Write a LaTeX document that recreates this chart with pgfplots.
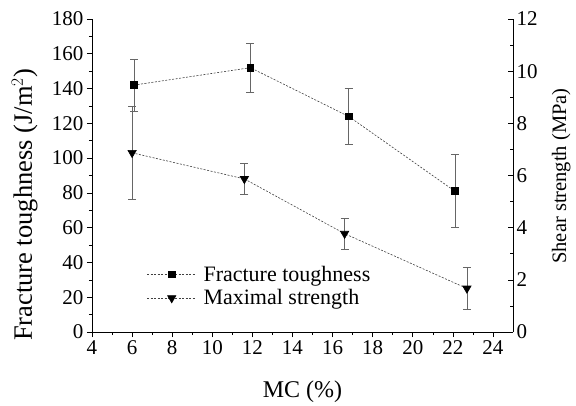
\documentclass[border=0pt]{standalone}
\usepackage{fontspec}
\setmainfont{Liberation Serif}
\usepackage{pgfplots}
\pgfplotsset{compat=1.18}
\usepackage{pgfplotstable}

\pgfplotstableread{
x     y    e
6.1   142  15
11.9  152  14
16.8  124  16
22.1  81   21
}\toughness

\pgfplotstableread{
x     y     e
6.0   6.87  1.80
11.6  5.87  0.60
16.6  3.77  0.60
22.7  1.67  0.80
}\strength

\pgfplotsset{
  common/.style={
    scale only axis, width=421pt, height=313pt,
    xmin=4, xmax=25,
    /pgf/number format/assume math mode=true,
    tick label style={font=\fontsize{21}{25}\selectfont},
    major tick length=5pt, minor tick length=3pt,
    tick style={black, line width=0.6pt},
    axis line style={line width=0.7pt},
  },
  ser/.style={black!75, line width=0.6pt, dash pattern=on 2pt off 1.5pt},
  ebar/.style={error bars/.cd, y dir=both, y explicit,
    error bar style={gray!80!black, line width=0.6pt, solid},
    error mark options={rotate=90, mark size=4pt, gray!80!black, line width=0.6pt, solid}},
}

\begin{document}
\begin{tikzpicture}
  \begin{axis}[common,
    name=main,
    axis x line*=bottom, axis y line*=left,
    ymin=0, ymax=180,
    xtick={4,6,...,24}, minor x tick num=1,
    ytick={0,20,...,180}, minor y tick num=1,
    tick align=outside,
  ]
    \addplot+[ser, mark=square*, mark size=3.4pt,
      mark options={solid, fill=black, draw=black}, ebar]
      table[x=x, y=y, y error=e] {\toughness};
  \end{axis}
  \begin{axis}[common,
    axis x line=none, axis y line*=right,
    ymin=0, ymax=12,
    ytick={0,2,...,12}, minor y tick num=1,
    tick align=inside,
    legend style={draw=none, fill=none, at={(0.13,0.215)}, anchor=north west,
      font=\fontsize{22}{26}\selectfont, row sep=5pt, inner sep=0pt,
      nodes={inner sep=1pt},
      /tikz/every odd column/.append style={column sep=6pt}},
    legend cell align=left,
    legend image code/.code={
      \draw[#1] (0pt,0pt) -- (49pt,0pt);
      \draw[#1, only marks] plot coordinates {(24.5pt,0pt)};
    },
  ]
    \addlegendimage{ser, mark=square*, mark size=3.4pt, mark options={solid, fill=black, draw=black}}
    \addlegendentry{Fracture toughness}
    \addplot+[ser, mark=triangle*, mark size=4.8pt,
      mark options={solid, fill=black, draw=black, rotate=180}, ebar]
      table[x=x, y=y, y error=e] {\strength};
    \addlegendentry{Maximal strength}
  \end{axis}
  % axis titles
  \node[anchor=base, font=\fontsize{24}{28}\selectfont]
    at ([xshift=210.5pt, yshift=-65pt]main.south west) {MC (\%)};
  \node[anchor=base, rotate=90, font=\fontsize{26.5}{30}\selectfont]
    at ([xshift=-60pt, yshift=127pt]main.south west) {Fracture toughness (J/m$^2$)};
  \node[anchor=base, rotate=90, font=\fontsize{20.5}{24}\selectfont]
    at ([xshift=474pt, yshift=156pt]main.south west) {Shear strength (MPa)};
  \path[use as bounding box] (main.south west) ++(-92pt,-69pt) rectangle ++(576pt,401pt);
\end{tikzpicture}
\end{document}
